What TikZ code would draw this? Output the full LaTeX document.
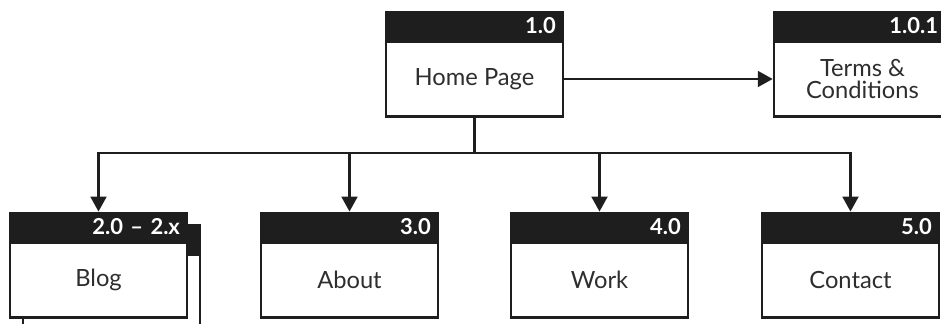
\documentclass[tikz,border=0pt]{standalone}
\usepackage{fontspec}
\setmainfont{Lato}
\usetikzlibrary{arrows.meta}

\definecolor{ink}{HTML}{1E1E1E}
\definecolor{copy}{HTML}{2E2E2E}

\tikzset{
  page/.style={draw=ink, line width=1.5pt, fill=white, minimum width=3.54cm,
    minimum height=1.5cm, inner sep=0pt, align=center, text=copy,
    font=\fontsize{13.5}{12.5}\selectfont},
  head/.style={draw=ink, fill=ink, line width=1.5pt, minimum width=3.54cm,
    minimum height=0.54cm, inner ysep=0pt, inner xsep=4pt, text width=92.7pt,
    align=right, text=white, font=\fontsize{12.5}{13}\selectfont\bfseries},
  link/.style={draw=ink, line width=1.4pt},
  arrowlink/.style={link, -{Triangle[length=8.5pt, width=9pt]}},
}

\begin{document}
\begin{tikzpicture}[x=0.02cm, y=-0.02cm]
  \useasboundingbox (0,0) rectangle (941,324);

  % top level
  \node[page, label={[head, name=homeh]above:1.0}] (home) at (474.5,79) {Home Page};
  \node[page, label={[head, name=termsh, text width=86pt]above:1.0.1}] (terms) at (862.5,79) {Terms \&\\Conditions};
  \draw[arrowlink] (home.east) -- (terms.west);

  % blog has more pages stacked behind it
  \node[page, label={[head, name=blogbackh]above:{}}] (blogback) at (111.5,292) {};

  \coordinate (split) at (474.5,153);
  \draw[link] (home.south) -- (split);
  \foreach \x/\num/\title/\name in {98.5/2.0 -- 2.x/Blog/blog, 349.5/3.0/About/about,
                                    599.5/4.0/Work/work, 850.5/5.0/Contact/contact} {
    \node[page, label={[head, name=\name h]above:\num}] (\name) at (\x,280) {\title};
    \draw[arrowlink] (split) -| (\name h.north);
  }
\end{tikzpicture}
\end{document}
